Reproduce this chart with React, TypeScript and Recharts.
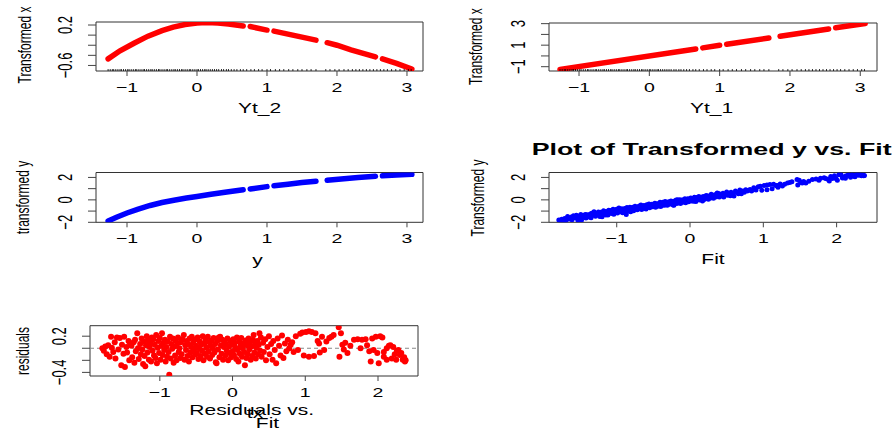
import React from "react";
import {
  ComposedChart,
  XAxis,
  YAxis,
  Line,
  Scatter,
  ReferenceArea,
  ReferenceLine,
} from "recharts";

const FONT = '"Liberation Sans", Arial, Helvetica, sans-serif';
const RED = "#ff0000";
const BLUE = "#0000ff";
const SX = 1.5; // the picture is stretched sideways

type Pt = [number, number | null];

// observed lag values (drawn as rug)
const lagObs = [
  -1.27, -1.24, -1.21, -1.19, -1.16, -1.13, -1.1, -1.08, -1.05, -1.02, -0.99, -0.97, -0.94, -0.91,
  -0.88, -0.86, -0.83, -0.8, -0.77, -0.75, -0.72, -0.69, -0.66, -0.64, -0.61, -0.58, -0.55, -0.53,
  -0.5, -0.47, -0.44, -0.42, -0.39, -0.36, -0.33, -0.31, -0.28, -0.25, -0.22, -0.2, -0.17, -0.14,
  -0.11, -0.09, -0.06, -0.03, 0.0, 0.02, 0.05, 0.08, 0.11, 0.13, 0.16, 0.19, 0.22, 0.25, 0.28, 0.31,
  0.35, 0.38, 0.42, 0.45, 0.49, 0.53, 0.57, 0.62, 0.66, 0.71, 0.77, 0.82, 0.88, 0.93, 1.0, 1.05,
  1.12, 1.18, 1.24, 1.31, 1.37, 1.44, 1.5, 1.57, 1.63, 1.7, 1.84, 1.9, 1.97, 2.03, 2.1, 2.16, 2.22,
  2.27, 2.32, 2.37, 2.42, 2.47, 2.52, 2.57, 2.62, 2.67, 2.72, 2.78, 2.84, 2.9, 2.96, 3.02, 3.06,
];

// transformed Yt_2 (null = gap in the observations)
const tYt2: Pt[] = [
  [-1.27, -0.47], [-1.1, -0.31], [-0.9, -0.16], [-0.7, -0.02], [-0.5, 0.09],
  [-0.34, 0.16], [-0.17, 0.21], [0, 0.24], [0.14, 0.25], [0.3, 0.24], [0.45, 0.22], [0.66, 0.18],
  [0.71, null], [0.76, 0.17], [1.0, 0.1], [1.05, null], [1.1, 0.08], [1.4, -0.01], [1.7, -0.1],
  [1.78, null], [1.86, -0.15], [2.0, -0.2], [2.2, -0.29], [2.55, -0.43], [2.6, null],
  [2.65, -0.47], [2.85, -0.56], [3.07, -0.67],
];

// transformed Yt_1
const tYt1: Pt[] = [
  [-1.27, -1.25], [0.66, 0.65], [0.71, null], [0.76, 0.75], [1.0, 0.99], [1.05, null],
  [1.1, 1.08], [1.7, 1.67], [1.78, null], [1.86, 1.83], [2.55, 2.51], [2.6, null], [2.65, 2.61],
  [3.07, 3.02],
];

// transformed y
const tY: Pt[] = [
  [-1.27, -1.88], [-1.15, -1.55], [-1.0, -1.17], [-0.85, -0.84], [-0.67, -0.5], [-0.5, -0.24],
  [-0.33, -0.03], [-0.15, 0.16], [0, 0.3], [0.2, 0.5], [0.4, 0.68], [0.66, 0.9], [0.71, null],
  [0.76, 0.97], [1.0, 1.18], [1.05, null], [1.1, 1.25], [1.3, 1.4], [1.5, 1.54], [1.7, 1.66],
  [1.78, null], [1.86, 1.75], [2.1, 1.89], [2.3, 2.0], [2.55, 2.1], [2.6, null], [2.65, 2.14],
  [2.85, 2.21], [3.07, 2.28],
];

// [fit, residual]
const fitResid: [number, number][] = [
  [-1.79, 0.0], [-1.77, -0.04], [-1.75, 0.03], [-1.73, -0.1], [-1.71, 0.05], [-1.69, -0.14],
  [-1.67, 0.19], [-1.66, 0.01], [-1.64, -0.06], [-1.62, 0.1], [-1.61, -0.17],
  [-1.59, 0.18], [-1.57, -0.02], [-1.55, 0.17], [-1.53, -0.28], [-1.52, 0.06], [-1.5, -0.09],
  [-1.49, 0.19], [-1.48, -0.31], [-1.46, 0.02], [-1.45, -0.07], [-1.43, 0.12], [-1.42, -0.2],
  [-1.41, 0.08], [-1.39, 0.04], [-1.38, -0.15], [-1.36, 0.1], [-1.35, -0.24], [-1.34, 0.14],
  [-1.33, -0.05], [-1.31, 0.25], [-1.3, 0.0], [-1.29, -0.18], [-1.27, 0.07], [-1.26, -0.1],
  [-1.25, 0.16], [-1.24, -0.02], [-1.23, -0.26], [-1.22, 0.11], [-1.21, -0.13],
  [-1.2, -0.3], [-1.19, 0.05], [-1.18, 0.2], [-1.17, -0.07], [-1.16, 0.13], [-1.15, -0.19],
  [-1.14, 0.02], [-1.13, 0.09], [-1.12, -0.22], [-1.11, 0.18], [-1.1, -0.04], [-1.09, 0.15],
  [-1.08, -0.12], [-1.07, 0.06], [-1.06, -0.16], [-1.05, 0.22], [-1.04, -0.25], [-1.03, 0.01],
  [-1.02, 0.12], [-1.01, -0.08], [-1.0, 0.17], [-0.99, -0.19], [-0.98, 0.04], [-0.97, 0.25],
  [-0.96, -0.11], [-0.95, 0.09], [-0.94, -0.03], [-0.93, 0.14], [-0.92, -0.22], [-0.91, 0.02],
  [-0.9, -0.14], [-0.89, 0.11], [-0.88, -0.06], [-0.87, -0.44], [-0.86, 0.19], [-0.85, -0.17],
  [-0.84, 0.07], [-0.83, -0.01], [-0.82, 0.16], [-0.81, -0.24], [-0.8, 0.03], [-0.79, -0.12],
  [-0.78, 0.13], [-0.77, -0.2], [-0.76, 0.08], [-0.75, 0.18], [-0.74, -0.06], [-0.73, 0.0],
  [-0.72, -0.16], [-0.71, 0.1], [-0.7, -0.1], [-0.69, 0.15], [-0.67, 0.22], [-0.66, -0.19],
  [-0.65, 0.05], [-0.64, -0.03], [-0.63, 0.12], [-0.62, -0.13], [-0.61, 0.07], [-0.6, -0.22],
  [-0.59, 0.16], [-0.58, -0.07], [-0.57, 0.02], [-0.56, 0.19], [-0.55, -0.15], [-0.54, 0.09],
  [-0.53, -0.02], [-0.52, 0.14], [-0.51, -0.1], [-0.5, 0.04], [-0.49, -0.08], [-0.48, 0.18],
  [-0.47, -0.18], [-0.46, 0.0], [-0.45, 0.11], [-0.44, -0.13], [-0.43, 0.06], [-0.42, -0.04],
  [-0.41, 0.2], [-0.4, -0.2], [-0.39, 0.08], [-0.38, -0.09], [-0.37, 0.15], [-0.36, 0.01],
  [-0.35, -0.14], [-0.34, 0.19], [-0.33, -0.05], [-0.32, 0.1], [-0.31, -0.17], [-0.3, 0.04],
  [-0.29, 0.13], [-0.28, -0.11], [-0.27, 0.0], [-0.26, 0.17], [-0.25, -0.07], [-0.24, 0.07],
  [-0.23, -0.23], [-0.22, -0.25], [-0.21, 0.12], [-0.2, -0.02], [-0.19, 0.18], [-0.18, -0.15],
  [-0.17, 0.19], [-0.16, 0.05], [-0.15, -0.09], [-0.14, 0.14], [-0.13, -0.19], [-0.12, 0.02],
  [-0.11, 0.1], [-0.1, -0.12], [-0.09, 0.07], [-0.08, -0.04], [-0.07, 0.16], [-0.06, -0.2],
  [-0.05, 0.03], [-0.04, -0.08], [-0.03, 0.12], [-0.02, -0.15], [-0.01, 0.06], [0.0, -0.05],
  [0.01, 0.15], [0.02, -0.11], [0.03, 0.09], [0.04, 0.01], [0.05, -0.18], [0.06, 0.18],
  [0.07, -0.03], [0.08, -0.22], [0.09, 0.11], [0.1, -0.09], [0.11, 0.04], [0.12, 0.17],
  [0.13, -0.14], [0.14, 0.0], [0.15, 0.08], [0.16, -0.06], [0.17, -0.28], [0.18, 0.13],
  [0.19, -0.16], [0.2, 0.05], [0.21, -0.1], [0.22, 0.16], [0.23, -0.02], [0.24, 0.1],
  [0.25, -0.19], [0.26, 0.03], [0.27, -0.13], [0.28, 0.14], [0.29, 0.22], [0.3, -0.07],
  [0.31, 0.07], [0.32, -0.17], [0.33, 0.01], [0.34, 0.12], [0.35, -0.1], [0.36, 0.06],
  [0.37, 0.25], [0.38, -0.04], [0.39, 0.18], [0.4, -0.14], [0.42, 0.09], [0.43, -0.06],
  [0.45, 0.15], [0.46, -0.2], [0.48, 0.02], [0.5, 0.2], [0.51, -0.1], [0.53, 0.07],
  [0.55, -0.19], [0.56, 0.12], [0.58, -0.03], [0.6, -0.25], [0.62, 0.16], [0.64, 0.04],
  [0.66, -0.12], [0.68, 0.21], [0.7, -0.16], [0.72, 0.08], [0.74, -0.05], [0.76, 0.14],
  [0.78, 0.0], [0.8, 0.06], [0.82, 0.1], [0.84, -0.06], [0.87, 0.2], [0.9, -0.03],
  [0.93, 0.24], [0.96, 0.26], [0.98, -0.12], [1.01, 0.27], [1.05, 0.28], [1.05, -0.14],
  [1.09, 0.27], [1.12, -0.13], [1.14, 0.25], [1.17, 0.12], [1.19, 0.08], [1.2, -0.07],
  [1.23, 0.19], [1.26, -0.03], [1.29, 0.11], [1.33, 0.17], [1.36, 0.19], [1.39, 0.22],
  [1.46, 0.35], [1.47, -0.14], [1.49, 0.25], [1.51, 0.06], [1.53, -0.02], [1.55, 0.09],
  [1.58, -0.08], [1.62, 0.04], [1.67, 0.14], [1.72, 0.15], [1.76, 0.0], [1.78, 0.14],
  [1.83, 0.15], [1.85, 0.05], [1.88, -0.05], [1.9, -0.22], [1.92, 0.16], [1.94, -0.03],
  [1.97, 0.19], [1.99, -0.08], [2.01, -0.25], [2.03, 0.2], [2.06, 0.18], [2.08, -0.14],
  [2.08, -0.06], [2.12, 0.0], [2.12, -0.19], [2.15, 0.04], [2.17, 0.05], [2.19, -0.17],
  [2.21, 0.02], [2.23, -0.1], [2.25, -0.19], [2.26, -0.04], [2.28, -0.03], [2.3, -0.11],
  [2.32, -0.08], [2.34, -0.19], [2.36, -0.15], [2.37, -0.22], [2.38, -0.2],
];

const toXY = (a: Pt[]) => a.map(([x, y]) => ({ x, y }));
const fmt = (v: number) => (v < 0 ? "\u2212" + Math.abs(v) : String(v));

const xTick = (props: any) => {
  const { x, y, payload } = props;
  return (
    <text
      transform={`translate(${x},${y + 16}) scale(${SX},1)`}
      textAnchor="middle"
      fontFamily={FONT}
      fontSize={13}
      fill="#000"
    >
      {fmt(payload.value)}
    </text>
  );
};

const yTick = (labels: number[]) => (props: any) => {
  const { x, y, payload } = props;
  if (!labels.includes(payload.value)) return <g />;
  return (
    <text
      transform={`translate(${x - 16},${y}) scale(${SX},1) rotate(-90)`}
      textAnchor="middle"
      fontFamily={FONT}
      fontSize={13}
      fill="#000"
    >
      {fmt(payload.value)}
    </text>
  );
};

const rug = (props: any) => (
  <line x1={props.cx} x2={props.cx} y1={props.cy} y2={props.cy - 2} stroke="#000" strokeWidth={0.8} />
);
const dot = (color: string, r: number) => (props: any) => (
  <circle cx={props.cx} cy={props.cy} r={r} fill={color} />
);

type PanelProps = {
  left: number;
  top: number;
  width: number;
  height: number;
  box: [number, number, number, number];
  xDomain: [number, number];
  yDomain: [number, number];
  xTicks: number[];
  yTicks: number[];
  yLabels: number[];
  children?: React.ReactNode;
};

function Panel(p: PanelProps) {
  const [l, t, r, b] = p.box;
  return (
    <div style={{ position: "absolute", left: p.left, top: p.top }}>
      <ComposedChart
        width={p.width}
        height={p.height}
        margin={{ top: t - p.top, right: p.left + p.width - r, bottom: 0, left: 0 }}
      >
        <XAxis
          type="number"
          dataKey="x"
          domain={p.xDomain}
          allowDataOverflow
          ticks={p.xTicks}
          interval={0}
          tickSize={5}
          tickMargin={0}
          axisLine={false}
          tickLine={{ stroke: "#444" }}
          height={p.top + p.height - b}
          tick={xTick}
        />
        <YAxis
          type="number"
          dataKey="y"
          domain={p.yDomain}
          allowDataOverflow
          ticks={p.yTicks}
          interval={0}
          tickSize={8}
          tickMargin={0}
          axisLine={false}
          tickLine={{ stroke: "#444" }}
          width={l - p.left}
          tick={yTick(p.yLabels)}
        />
        <ReferenceArea
          x1={p.xDomain[0]}
          x2={p.xDomain[1]}
          y1={p.yDomain[0]}
          y2={p.yDomain[1]}
          fill="none"
          fillOpacity={0}
          stroke="#333"
          strokeWidth={1}
          ifOverflow="visible"
        />
        {p.children}
      </ComposedChart>
    </div>
  );
}

function Txt(props: { x: number; y: number; size: number; rot?: boolean; bold?: boolean; len?: number; children: string }) {
  const tr = `translate(${props.x},${props.y}) scale(${SX},1)` + (props.rot ? " rotate(-90)" : "");
  return (
    <text
      transform={tr}
      textAnchor="middle"
      fontFamily={FONT}
      fontSize={props.size}
      fontWeight={props.bold ? "bold" : "normal"}
      textLength={props.len}
      lengthAdjust={props.len ? "spacingAndGlyphs" : undefined}
      fill="#000"
    >
      {props.children}
    </text>
  );
}

export default function App() {
  const xt = [-1, 0, 1, 2, 3];
  const xtFit = [-1, 0, 1, 2];
  const rugYt2 = lagObs.map((x) => ({ x, y: -0.71 }));
  const rugYt1 = lagObs.map((x) => ({ x, y: -1.4 }));
  const fitTy = fitResid.map(([f, e]) => ({ x: f, y: f + e }));
  const fitRes = fitResid.map(([f, e]) => ({ x: f, y: e }));

  return (
    <div style={{ position: "absolute", left: 0, top: 0, width: 895, height: 430, background: "#fff" }}>
      <Panel
        left={0} top={0} width={440} height={125}
        box={[96, 22, 423, 71]}
        xDomain={[-1.443, 3.229]} yDomain={[-0.71, 0.26]}
        xTicks={xt} yTicks={[-0.6, -0.4, -0.2, 0, 0.2]} yLabels={[-0.6, 0.2]}
      >
        <Scatter data={rugYt2} shape={rug} isAnimationActive={false} />
        <Line data={toXY(tYt2)} dataKey="y" type="linear" stroke={RED} strokeWidth={5.5}
          strokeLinecap="round" dot={false} isAnimationActive={false} />
      </Panel>

      <Panel
        left={440} top={0} width={455} height={125}
        box={[549, 23, 877, 71]}
        xDomain={[-1.427, 3.238]} yDomain={[-1.4, 3.06]}
        xTicks={xt} yTicks={[-1, 0, 1, 2, 3]} yLabels={[-1, 1, 3]}
      >
        <Scatter data={rugYt1} shape={rug} isAnimationActive={false} />
        <Line data={toXY(tYt1)} dataKey="y" type="linear" stroke={RED} strokeWidth={5.5}
          strokeLinecap="round" dot={false} isAnimationActive={false} />
      </Panel>

      <Panel
        left={0} top={140} width={440} height={135}
        box={[96, 172.5, 423, 222.3]}
        xDomain={[-1.443, 3.229]} yDomain={[-2.0, 2.44]}
        xTicks={xt} yTicks={[-2, -1, 0, 1, 2]} yLabels={[-2, 0, 2]}
      >
        <Line data={toXY(tY)} dataKey="y" type="linear" stroke={BLUE} strokeWidth={5.5}
          strokeLinecap="round" dot={false} isAnimationActive={false} />
      </Panel>

      <Panel
        left={440} top={140} width={455} height={135}
        box={[549, 172.5, 877, 222.3]}
        xDomain={[-1.924, 2.551]} yDomain={[-2.0, 2.44]}
        xTicks={xtFit} yTicks={[-2, -1, 0, 1, 2]} yLabels={[-2, 0, 2]}
      >
        <Scatter data={fitTy} shape={dot(BLUE, 2.5)} isAnimationActive={false} />
      </Panel>

      <Panel
        left={0} top={310} width={440} height={120}
        box={[90, 325.7, 418, 376]}
        xDomain={[-1.96, 2.55]} yDomain={[-0.46, 0.374]}
        xTicks={xtFit} yTicks={[-0.4, -0.2, 0, 0.2]} yLabels={[-0.4, 0.2]}
      >
        <ReferenceLine y={0} stroke="#888" strokeDasharray="4 3" strokeWidth={1} />
        <Scatter data={fitRes} shape={dot(RED, 3)} isAnimationActive={false} />
      </Panel>

      <svg width={895} height={430} style={{ position: "absolute", left: 0, top: 0, pointerEvents: "none" }}>
        <Txt x={31} y={45} size={12} rot>Transformed x</Txt>
        <Txt x={482} y={46.7} size={12} rot>Transformed x</Txt>
        <Txt x={29} y={197.5} size={12} rot>transformed y</Txt>
        <Txt x={484} y={198} size={12} rot>Transformed y</Txt>
        <Txt x={29} y={351} size={12} rot>residuals</Txt>

        <Txt x={259.5} y={112.5} size={14}>Yt_2</Txt>
        <Txt x={711.5} y={112.5} size={14}>Yt_1</Txt>
        <Txt x={257.5} y={264.5} size={14}>y</Txt>
        <Txt x={713} y={264} size={14}>Fit</Txt>

        <Txt x={711.7} y={155} size={16} bold len={240}>Plot of Transformed y vs. Fit</Txt>

        {/* R drew the main title and xlab on top of each other here */}
        <Txt x={251.7} y={415} size={14}>Residuals vs.</Txt>
        <Txt x={255} y={418} size={14}>tx</Txt>
        <Txt x={267.5} y={428} size={14}>Fit</Txt>
      </svg>
    </div>
  );
}
